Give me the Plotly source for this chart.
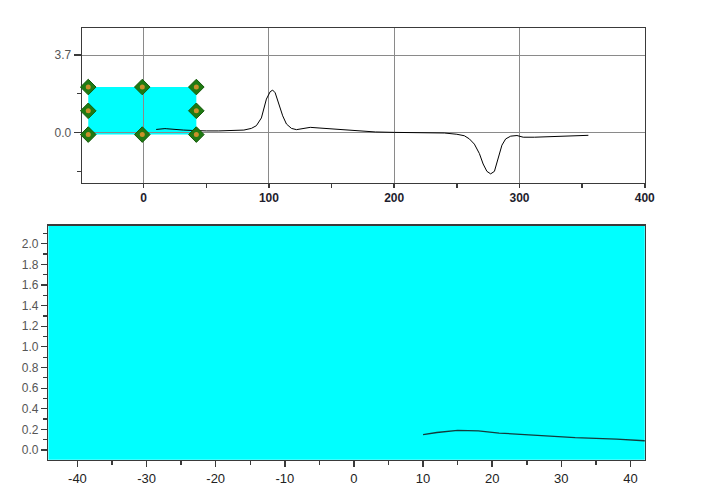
import plotly.graph_objects as go

# ---- data ----
curve_x = [10, 12, 15, 17, 18, 21, 26, 32, 38, 42, 50, 60, 70, 80, 86, 90, 94, 98, 101, 103,
           105, 108, 111, 114, 118, 122, 127, 133, 140, 150, 160, 172, 185, 200, 220, 240,
           250, 256, 260, 264, 268, 271, 274, 277, 280, 283, 286, 289, 293, 298, 303, 312,
           322, 338, 355]
curve_y = [0.15, 0.17, 0.19, 0.19, 0.185, 0.165, 0.143, 0.12, 0.105, 0.09, 0.08, 0.08, 0.09,
           0.12, 0.2, 0.33, 0.7, 1.6, 1.95, 2.03, 1.9, 1.36, 0.8, 0.41, 0.2, 0.14, 0.18, 0.25,
           0.22, 0.17, 0.12, 0.06, 0.03, 0.01, 0.0, -0.02, -0.08, -0.15, -0.3, -0.55, -1.0,
           -1.5, -1.85, -1.97, -1.85, -1.2, -0.6, -0.3, -0.17, -0.14, -0.22, -0.22, -0.2,
           -0.16, -0.13]

top_x_ticks = [0, 100, 200, 300, 400]
top_y_ticks = [0.0, 3.7]
top_y_labels = ["0.0", "3.7"]
bot_x_ticks = [-40, -30, -20, -10, 0, 10, 20, 30, 40]
bot_y_ticks = [0.0, 0.2, 0.4, 0.6, 0.8, 1.0, 1.2, 1.4, 1.6, 1.8, 2.0]
bot_y_labels = ["0.0", "0.2", "0.4", "0.6", "0.8", "1.0", "1.2", "1.4", "1.6", "1.8", "2.0"]

top_x_range = [-49.3, 400]
top_y_range = [-2.4, 5.0]
zoom_x_range = [-44.2, 42.07]
zoom_y_range = [-0.095, 2.174]

CYAN = "#00FFFF"
FRAME = "#3a3a3a"

fig = go.Figure()

# top panel curve
fig.add_trace(go.Scatter(x=curve_x, y=curve_y, mode="lines",
                         line=dict(color="black", width=1), xaxis="x", yaxis="y",
                         showlegend=False, hoverinfo="skip"))

# zoom-region handles on the top panel
hx0, hx1 = zoom_x_range
hy0, hy1 = zoom_y_range
hxm = (hx0 + hx1) / 2
hym = (hy0 + hy1) / 2
handle_x = [hx0, hxm, hx1, hx0, hx1, hx0, hxm, hx1]
handle_y = [hy1, hy1, hy1, hym, hym, hy0, hy0, hy0]
fig.add_trace(go.Scatter(x=handle_x, y=handle_y, mode="markers",
                         marker=dict(symbol="diamond", size=12, color="#1f7a12",
                                     line=dict(color="#145a0a", width=1)),
                         xaxis="x", yaxis="y", showlegend=False, hoverinfo="skip",
                         cliponaxis=False))
fig.add_trace(go.Scatter(x=handle_x, y=handle_y, mode="markers",
                         marker=dict(symbol="circle", size=5, color="#c8902a"),
                         xaxis="x", yaxis="y", showlegend=False, hoverinfo="skip",
                         cliponaxis=False))

# bottom panel curve
fig.add_trace(go.Scatter(x=curve_x, y=curve_y, mode="lines",
                         line=dict(color="#123c3c", width=1.3), xaxis="x2", yaxis="y2",
                         showlegend=False, hoverinfo="skip"))

# cyan zoom rectangle on top panel
fig.add_shape(type="rect", xref="x", yref="y", x0=hx0, x1=hx1, y0=hy0, y1=hy1,
              fillcolor=CYAN, line=dict(width=0), layer="below")
# cyan background of bottom panel
fig.add_shape(type="rect", xref="x2 domain", yref="y2 domain", x0=0, x1=1, y0=0, y1=1,
              fillcolor=CYAN, line=dict(width=0), layer="below")

top_dom_x = [0.1153, 0.9081]
top_dom_y = [0.615, 0.9414]
bot_dom_x = [0.0682, 0.9081]
bot_dom_y = [0.0319, 0.5247]

fig.update_layout(
    width=720, height=486,
    margin=dict(l=0, r=0, t=0, b=0),
    paper_bgcolor="white", plot_bgcolor="rgba(0,0,0,0)",
    font=dict(family="Liberation Sans, Arial, sans-serif"),
    xaxis=dict(domain=top_dom_x, anchor="y", range=top_x_range,
               tickvals=top_x_ticks, ticktext=[str(v) for v in top_x_ticks],
               tickfont=dict(size=12, color="#1e1e2e", weight="bold"),
               showgrid=True, gridcolor="#8a8a8a", gridwidth=1, zeroline=False,
               showline=True, linecolor=FRAME, linewidth=1.2, mirror=True,
               ticks="outside", ticklen=4, tickcolor=FRAME, tickwidth=1.5,
               minor=dict(dtick=50, tick0=0, ticks="outside", ticklen=4, tickcolor=FRAME,
                          showgrid=False),
               layer="above traces"),
    yaxis=dict(domain=top_dom_y, anchor="x", range=top_y_range,
               tickvals=top_y_ticks, ticktext=top_y_labels,
               tickfont=dict(size=12, color="#555555"),
               showgrid=True, gridcolor="#8a8a8a", gridwidth=1, zeroline=False,
               showline=True, linecolor=FRAME, linewidth=1.2, mirror=True,
               ticks="outside", ticklen=7, tickcolor=FRAME, tickwidth=1.2,
               minor=dict(dtick=1.85, tick0=0, ticks="outside", ticklen=4,
                          tickcolor=FRAME, showgrid=False),
               layer="below traces"),
    xaxis2=dict(domain=bot_dom_x, anchor="y2", range=zoom_x_range,
                tickvals=bot_x_ticks, ticktext=[str(v) for v in bot_x_ticks],
                tickfont=dict(size=13, color="#222222"),
                showgrid=False, zeroline=False,
                showline=True, linecolor=FRAME, linewidth=1.5, mirror=True,
                ticks="outside", ticklen=6, tickcolor=FRAME, tickwidth=1.5,
                minor=dict(dtick=5, tick0=0, ticks="outside", ticklen=4, tickcolor=FRAME,
                           showgrid=False)),
    yaxis2=dict(domain=bot_dom_y, anchor="x2", range=zoom_y_range,
                tickvals=bot_y_ticks, ticktext=bot_y_labels,
                tickfont=dict(size=12, color="#555555"),
                showgrid=False, zeroline=False,
                showline=True, linecolor=FRAME, linewidth=1.5, mirror=True,
                ticks="outside", ticklen=6, tickcolor=FRAME, tickwidth=1.2,
                minor=dict(dtick=0.1, tick0=0, ticks="outside", ticklen=4,
                           tickcolor=FRAME, showgrid=False)),
)

fig.write_html(
    "out.html",
    config={"displayModeBar": False, "staticPlot": True},
    post_script=(
        "document.documentElement.style.margin='0';"
        "document.documentElement.style.overflow='hidden';"
        "document.body.style.margin='0';document.body.style.padding='0';"
        "document.body.style.overflow='hidden';"
    ),
)
